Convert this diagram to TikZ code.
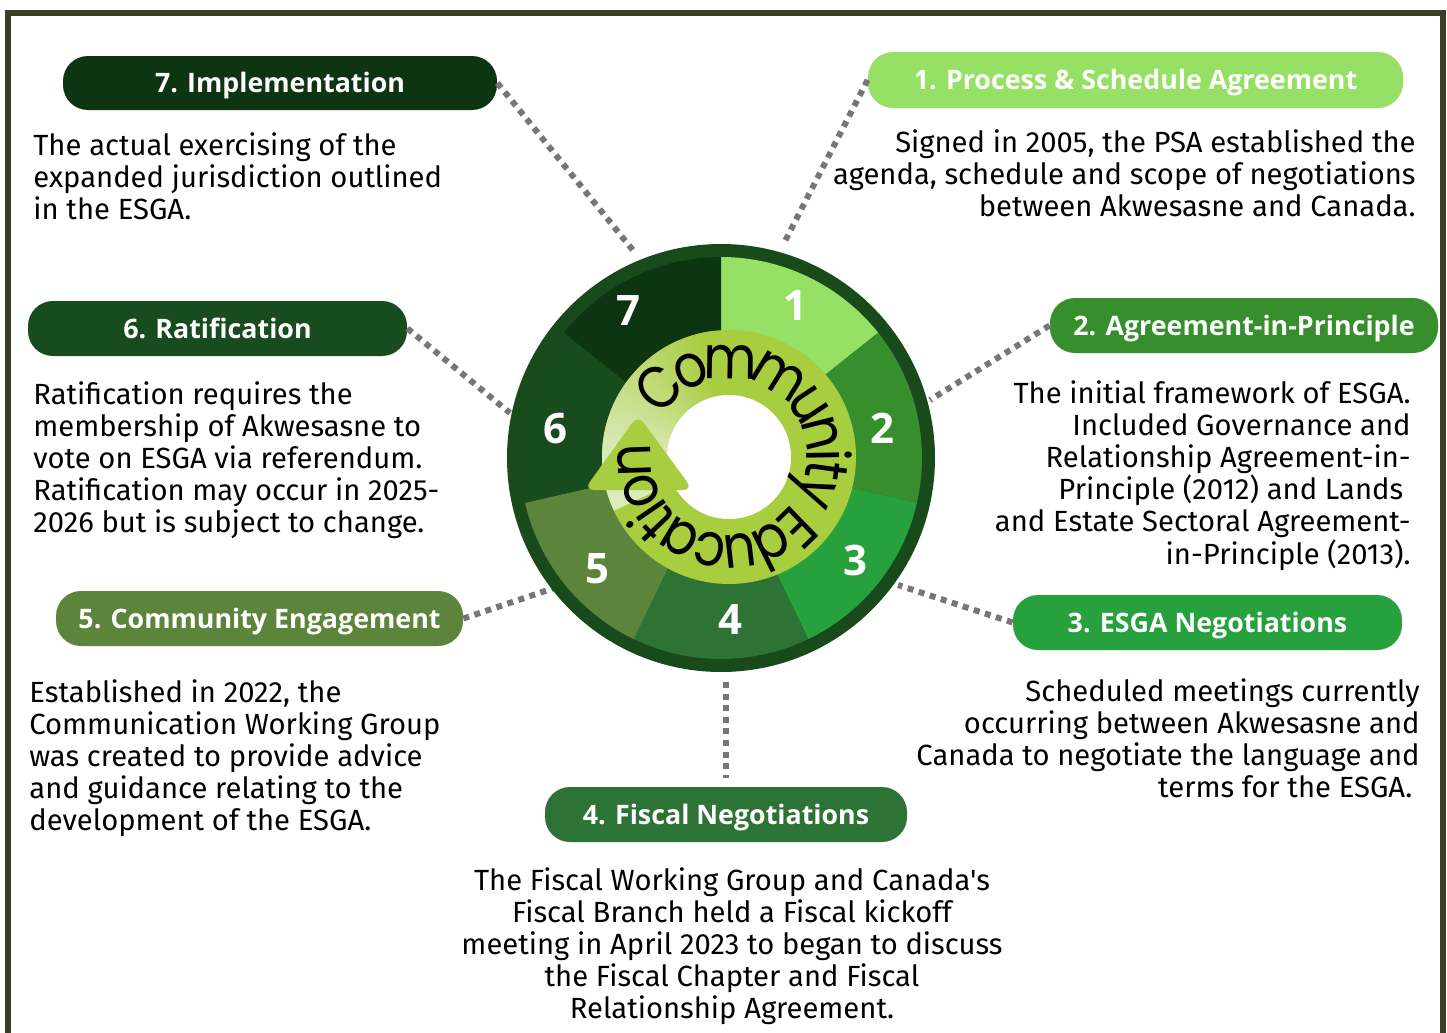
\documentclass[tikz,border=0pt]{standalone}
\usepackage{fontspec}
\setmainfont{Fira Sans}
\newfontfamily\bodyfont{Fira Sans}
\newfontfamily\headfont{Open Sans}
\newfontfamily\ringfont{Poppins}[FakeStretch=0.86]
\usetikzlibrary{decorations.text}
\definecolor{frameC}{RGB}{58,62,34}
\definecolor{dotgray}{RGB}{118,118,118}
\definecolor{sA}{HTML}{96E066}
\definecolor{sB}{HTML}{368E2D}
\definecolor{sC}{HTML}{26A13D}
\definecolor{sD}{HTML}{2E7336}
\definecolor{sE}{HTML}{5C853B}
\definecolor{sF}{HTML}{184C1E}
\definecolor{sG}{HTML}{0D3512}
\definecolor{ringC}{HTML}{194A1B}
\definecolor{limeC}{HTML}{A8CD3E}
\definecolor{fadeC}{HTML}{DCEBBE}
\begin{document}
\begin{tikzpicture}[x=0.5pt,y=-0.5pt,
  pill/.style={rectangle, rounded corners=12.5pt, inner sep=0pt, text=white,
    font=\headfont\fontsize{13.4}{14}\selectfont\bfseries, text height=9.5pt, text depth=0pt},
  body/.style={inner sep=0pt, font=\bodyfont\fontsize{14.6}{16}\selectfont},
  num/.style={text=white, font=\headfont\fontsize{21}{22}\selectfont\bfseries, inner sep=0pt,
    text height=15pt, text depth=0pt},
  conn/.style={draw=dotgray, line width=3pt, dash pattern=on 3pt off 2.8pt},
]
\useasboundingbox (0,0) rectangle (1447,1033);
\fill[white] (0,0) rectangle (1447,1033);
% frame
\draw[frameC, line width=3pt] (8,1040) -- (8,12.5) -- (1443,12.5) -- (1443,1040);

% header pills
\node[pill, fill=sG, minimum width=217pt, minimum height=27pt] (h7) at (280,83) {7. Implementation};
\node[pill, fill=sA, minimum width=267.5pt, minimum height=28pt] (h1) at (1135.5,80) {1. Process \& Schedule Agreement};
\node[pill, fill=sB, minimum width=194pt, minimum height=27.5pt] (h2) at (1244,325.5) {2. Agreement-in-Principle};
\node[pill, fill=sC, minimum width=194.5pt, minimum height=27.5pt] (h3) at (1207.5,622.5) {3. ESGA Negotiations};
\node[pill, fill=sD, minimum width=181pt, minimum height=27.5pt] (h4) at (726,814.5) {4. Fiscal Negotiations};
\node[pill, fill=sE, minimum width=203.5pt, minimum height=27.5pt] (h5) at (259.5,618.5) {5. Community Engagement};
\node[pill, fill=sF, minimum width=189.5pt, minimum height=27.5pt] (h6) at (217.5,328.5) {6. Ratification};

% connector end points near the wheel
\coordinate (c7) at (636,254);
\coordinate (c1) at (783,245);
\coordinate (c2) at (930,400);
\coordinate (c3) at (898,585);
\coordinate (c4) at (726,682);
\coordinate (c5) at (554,588);
\coordinate (c6) at (510,413);
\draw[conn] (h7.east) -- (c7);
\draw[conn] (h1.west) -- (c1);
\draw[conn] (h2.west) -- (c2);
\draw[conn] (h3.west) -- (c3);
\draw[conn, shorten >=4.5pt] (c4) -- (h4.north);
\draw[conn] (h5.east) -- (c5);
\draw[conn] (h6.east) -- (c6);

% wheel
\begin{scope}[shift={(721,458)}]
  \fill[ringC] (0,0) circle (214);
  \foreach \k/\col in {1/sA,2/sB,3/sC,4/sD,5/sE,6/sF,7/sG}{
    \pgfmathsetmacro\aa{-90+(\k-1)*360/7}
    \pgfmathsetmacro\ab{-90+\k*360/7}
    \fill[\col] (0,0) -- (\aa:201) arc[start angle=\aa, end angle=\ab, radius=201] -- cycle;
  }
\end{scope}
\begin{scope}[shift={(729,457)}]
  \fill[limeC] (0,0) circle (127);
  \fill[fadeC] (0,0) -- (-205:127) arc[start angle=-205, end angle=-183, radius=127] -- cycle;
  \foreach \i in {0,...,29}{
    \pgfmathsetmacro\aa{-183+\i*2.8}
    \pgfmathsetmacro\ab{-183+(\i+1)*2.8+0.4}
    \pgfmathtruncatemacro\pc{100*\i/29}
    \fill[limeC!\pc!fadeC] (0,0) -- (\aa:127) arc[start angle=\aa, end angle=\ab, radius=127] -- cycle;
  }
  \fill[white] (0,0) circle (62);
\end{scope}
\fill[limeC, rounded corners=5pt] (638,415) -- (693,490) -- (584,490) -- cycle;
\path[decorate, decoration={text along path,
   text={|\ringfont\fontsize{30}{30}\selectfont|Community Education},
   text align=center, raise=-10.5pt}]
   (729,457) ++(-179.5:99) arc[start angle=-179.5, end angle=220.5, radius=99];

% numbers
\node[num] (n1) at (795,305) {1};
\node[num] (n2) at (882,428) {2};
\node[num] (n3) at (855,560) {3};
\node[num] (n4) at (730,619) {4};
\node[num] (n5) at (597,568) {5};
\node[num] (n6) at (555,428) {6};
\node[num] (n7) at (628,310) {7};

% body texts
\foreach \l [count=\i] in {{Signed in 2005, the PSA established the},{agenda, schedule and scope of negotiations},{between Akwesasne and Canada.}}
  \node[body, anchor=base east] (ta-\i) at (1416,{152+32*(\i-1)}) {\l};
\foreach \l [count=\i] in {{The initial framework of ESGA.},{Included Governance and},{Relationship Agreement-in-},{Principle (2012) and Lands\hspace*{0.25em}},{and Estate Sectoral Agreement-},{in-Principle (2013).}}
  \node[body, anchor=base east] (tb-\i) at (1411,{403+32.2*(\i-1)}) {\l};
\foreach \l [count=\i] in {{Scheduled meetings currently},{occurring between Akwesasne and},{Canada to negotiate the language and},{terms for the ESGA.\hspace*{0.25em}}}
  \node[body, anchor=base east] (tc-\i) at (1420,{701+32.2*(\i-1)}) {\l};
\foreach \l [count=\i] in {{The Fiscal Working Group and Canada's},{Fiscal Branch held a Fiscal kickoff},{meeting in April 2023 to began to discuss},{the Fiscal Chapter and Fiscal},{Relationship Agreement.}}
  \node[body, anchor=base] (td-\i) at (732,{890+32.2*(\i-1)}) {\l};
\foreach \l [count=\i] in {{Established in 2022, the},{Communication Working Group},{was created to provide advice},{and guidance relating to the},{development of the ESGA.}}
  \node[body, anchor=base west] (te-\i) at (29,{702+32.2*(\i-1)}) {\l};
\foreach \l [count=\i] in {{Ratification requires the},{membership of Akwesasne to},{vote on ESGA via referendum.},{Ratification may occur in 2025-},{2026 but is subject to change.}}
  \node[body, anchor=base west] (tf-\i) at (33,{404+32.2*(\i-1)}) {\l};
\foreach \l [count=\i] in {{The actual exercising of the},{expanded jurisdiction outlined},{in the ESGA.}}
  \node[body, anchor=base west] (tg-\i) at (33,{155+32*(\i-1)}) {\l};
\end{tikzpicture}
\end{document}
